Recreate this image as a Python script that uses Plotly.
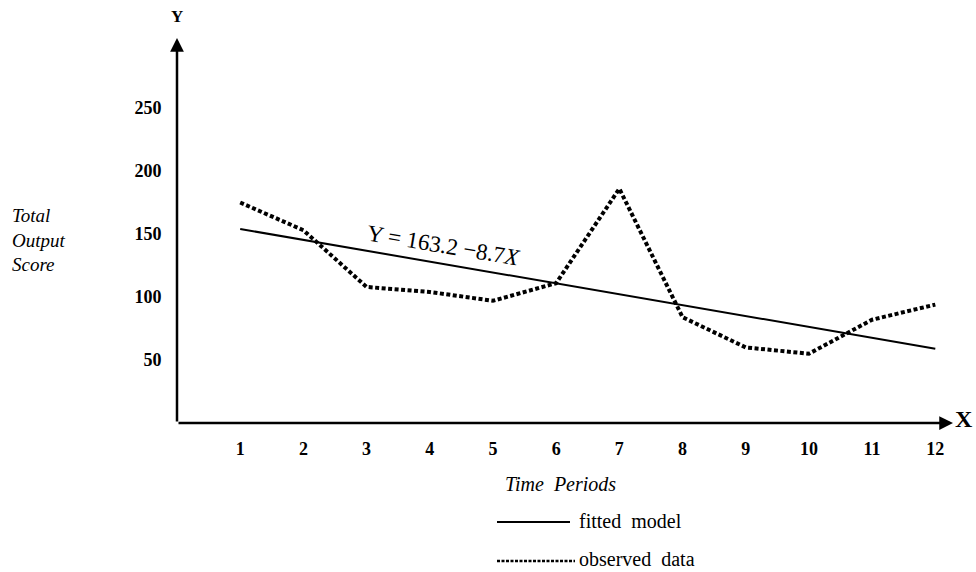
import plotly.graph_objects as go

# ---- data ----
periods = [1, 2, 3, 4, 5, 6, 7, 8, 9, 10, 11, 12]
observed = [175, 153, 108, 104, 97, 111, 186, 84, 60, 55, 82, 94]
fitted_x = [1, 12]
fitted_y = [154, 59]
x_ticks = [1, 2, 3, 4, 5, 6, 7, 8, 9, 10, 11, 12]
x_tick_labels = ["1", "2", "3", "4", "5", "6", "7", "8", "9", "10", "11", "12"]
y_ticks = [50, 100, 150, 200, 250]
y_tick_labels = ["50", "100", "150", "200", "250"]

SERIF = "Liberation Serif, DejaVu Serif, serif"
XMAX = 12.28
YMAX = 305.6

fig = go.Figure()
fig.add_trace(go.Scatter(x=fitted_x, y=fitted_y, mode="lines",
                         line=dict(color="black", width=2), name="fitted model",
                         showlegend=False))
fig.add_trace(go.Scatter(x=periods, y=observed, mode="lines",
                         line=dict(color="black", width=4, dash="4px,2.5px"),
                         name="observed data", showlegend=False))

# axes with arrows
fig.add_annotation(x=XMAX, y=0, ax=0, ay=0, xref="x", yref="y", axref="x", ayref="y",
                   showarrow=True, arrowhead=2, arrowsize=1.1, arrowwidth=2.5,
                   arrowcolor="black", text="", standoff=0, startstandoff=0)
fig.add_annotation(x=0, y=YMAX, ax=0, ay=0, xref="x", yref="y", axref="x", ayref="y",
                   showarrow=True, arrowhead=2, arrowsize=1.1, arrowwidth=2.5,
                   arrowcolor="black", text="", standoff=0, startstandoff=0)

# axis letters
fig.add_annotation(x=0, y=1.0, xref="x", yref="paper", yanchor="middle", yshift=22,
                   text="<b>Y</b>", showarrow=False,
                   font=dict(family=SERIF, size=17, color="black"))
fig.add_annotation(x=1.0, y=0, xref="paper", yref="y", xshift=22, yshift=4, text="<b>X</b>",
                   showarrow=False, font=dict(family=SERIF, size=24, color="black"))

# axis titles
fig.add_annotation(x=(10 - 177) / 776, y=(423 - 240) / 1.26, xref="paper", yref="y",
                   xanchor="left", yanchor="middle", align="left", showarrow=False,
                   text="<i>Total<br>Output<br>Score</i>",
                   font=dict(family=SERIF, size=19, color="black"))
fig.add_annotation(x=(560 - 177) / 776, y=(423 - 484) / 385, xref="paper", yref="paper",
                   yanchor="middle", showarrow=False, text="<i>Time  Periods</i>",
                   font=dict(family=SERIF, size=20, color="black"))

# equation
fig.add_annotation(x=(443 - 177) / 776, y=(423 - 246) / 385, xref="paper", yref="paper",
                   yanchor="middle", showarrow=False, textangle=9.5,
                   text="Y = 163.2 \u22128.7<i>X</i>",
                   font=dict(family=SERIF, size=23, color="black"))

# legend (manual)
fig.add_shape(type="line", xref="paper", yref="paper",
              x0=(497 - 177) / 776, x1=(570 - 177) / 776,
              y0=(423 - 522) / 385, y1=(423 - 522) / 385,
              line=dict(color="black", width=2))
fig.add_shape(type="line", xref="paper", yref="paper",
              x0=(497 - 177) / 776, x1=(575 - 177) / 776,
              y0=(423 - 561) / 385, y1=(423 - 561) / 385,
              line=dict(color="black", width=2.5, dash="3px,1.5px"))
fig.add_annotation(x=(577 - 177) / 776, y=(423 - 521) / 385, xref="paper", yref="paper",
                   xanchor="left", yanchor="middle", showarrow=False, text="fitted  model",
                   font=dict(family=SERIF, size=20, color="black"))
fig.add_annotation(x=(577 - 177) / 776, y=(423 - 559) / 385, xref="paper", yref="paper",
                   xanchor="left", yanchor="middle", showarrow=False, text="observed  data",
                   font=dict(family=SERIF, size=20, color="black"))

fig.update_layout(
    width=976, height=572,
    margin=dict(l=177, r=23, t=38, b=149),
    paper_bgcolor="white", plot_bgcolor="white",
    showlegend=False,
    font=dict(family=SERIF, color="black"),
    xaxis=dict(range=[0, XMAX], showgrid=False, zeroline=False, showline=False,
               tickvals=x_ticks, ticktext=x_tick_labels, ticks="outside",
               ticklen=9, tickcolor="rgba(0,0,0,0)",
               tickfont=dict(family=SERIF, size=18, color="black", weight="bold")),
    yaxis=dict(range=[0, YMAX], showgrid=False, zeroline=False, showline=False,
               tickvals=y_ticks, ticktext=y_tick_labels, ticks="outside",
               ticklen=11, tickcolor="rgba(0,0,0,0)",
               tickfont=dict(family=SERIF, size=18, color="black", weight="bold")),
)

fig.write_html("out.html")
